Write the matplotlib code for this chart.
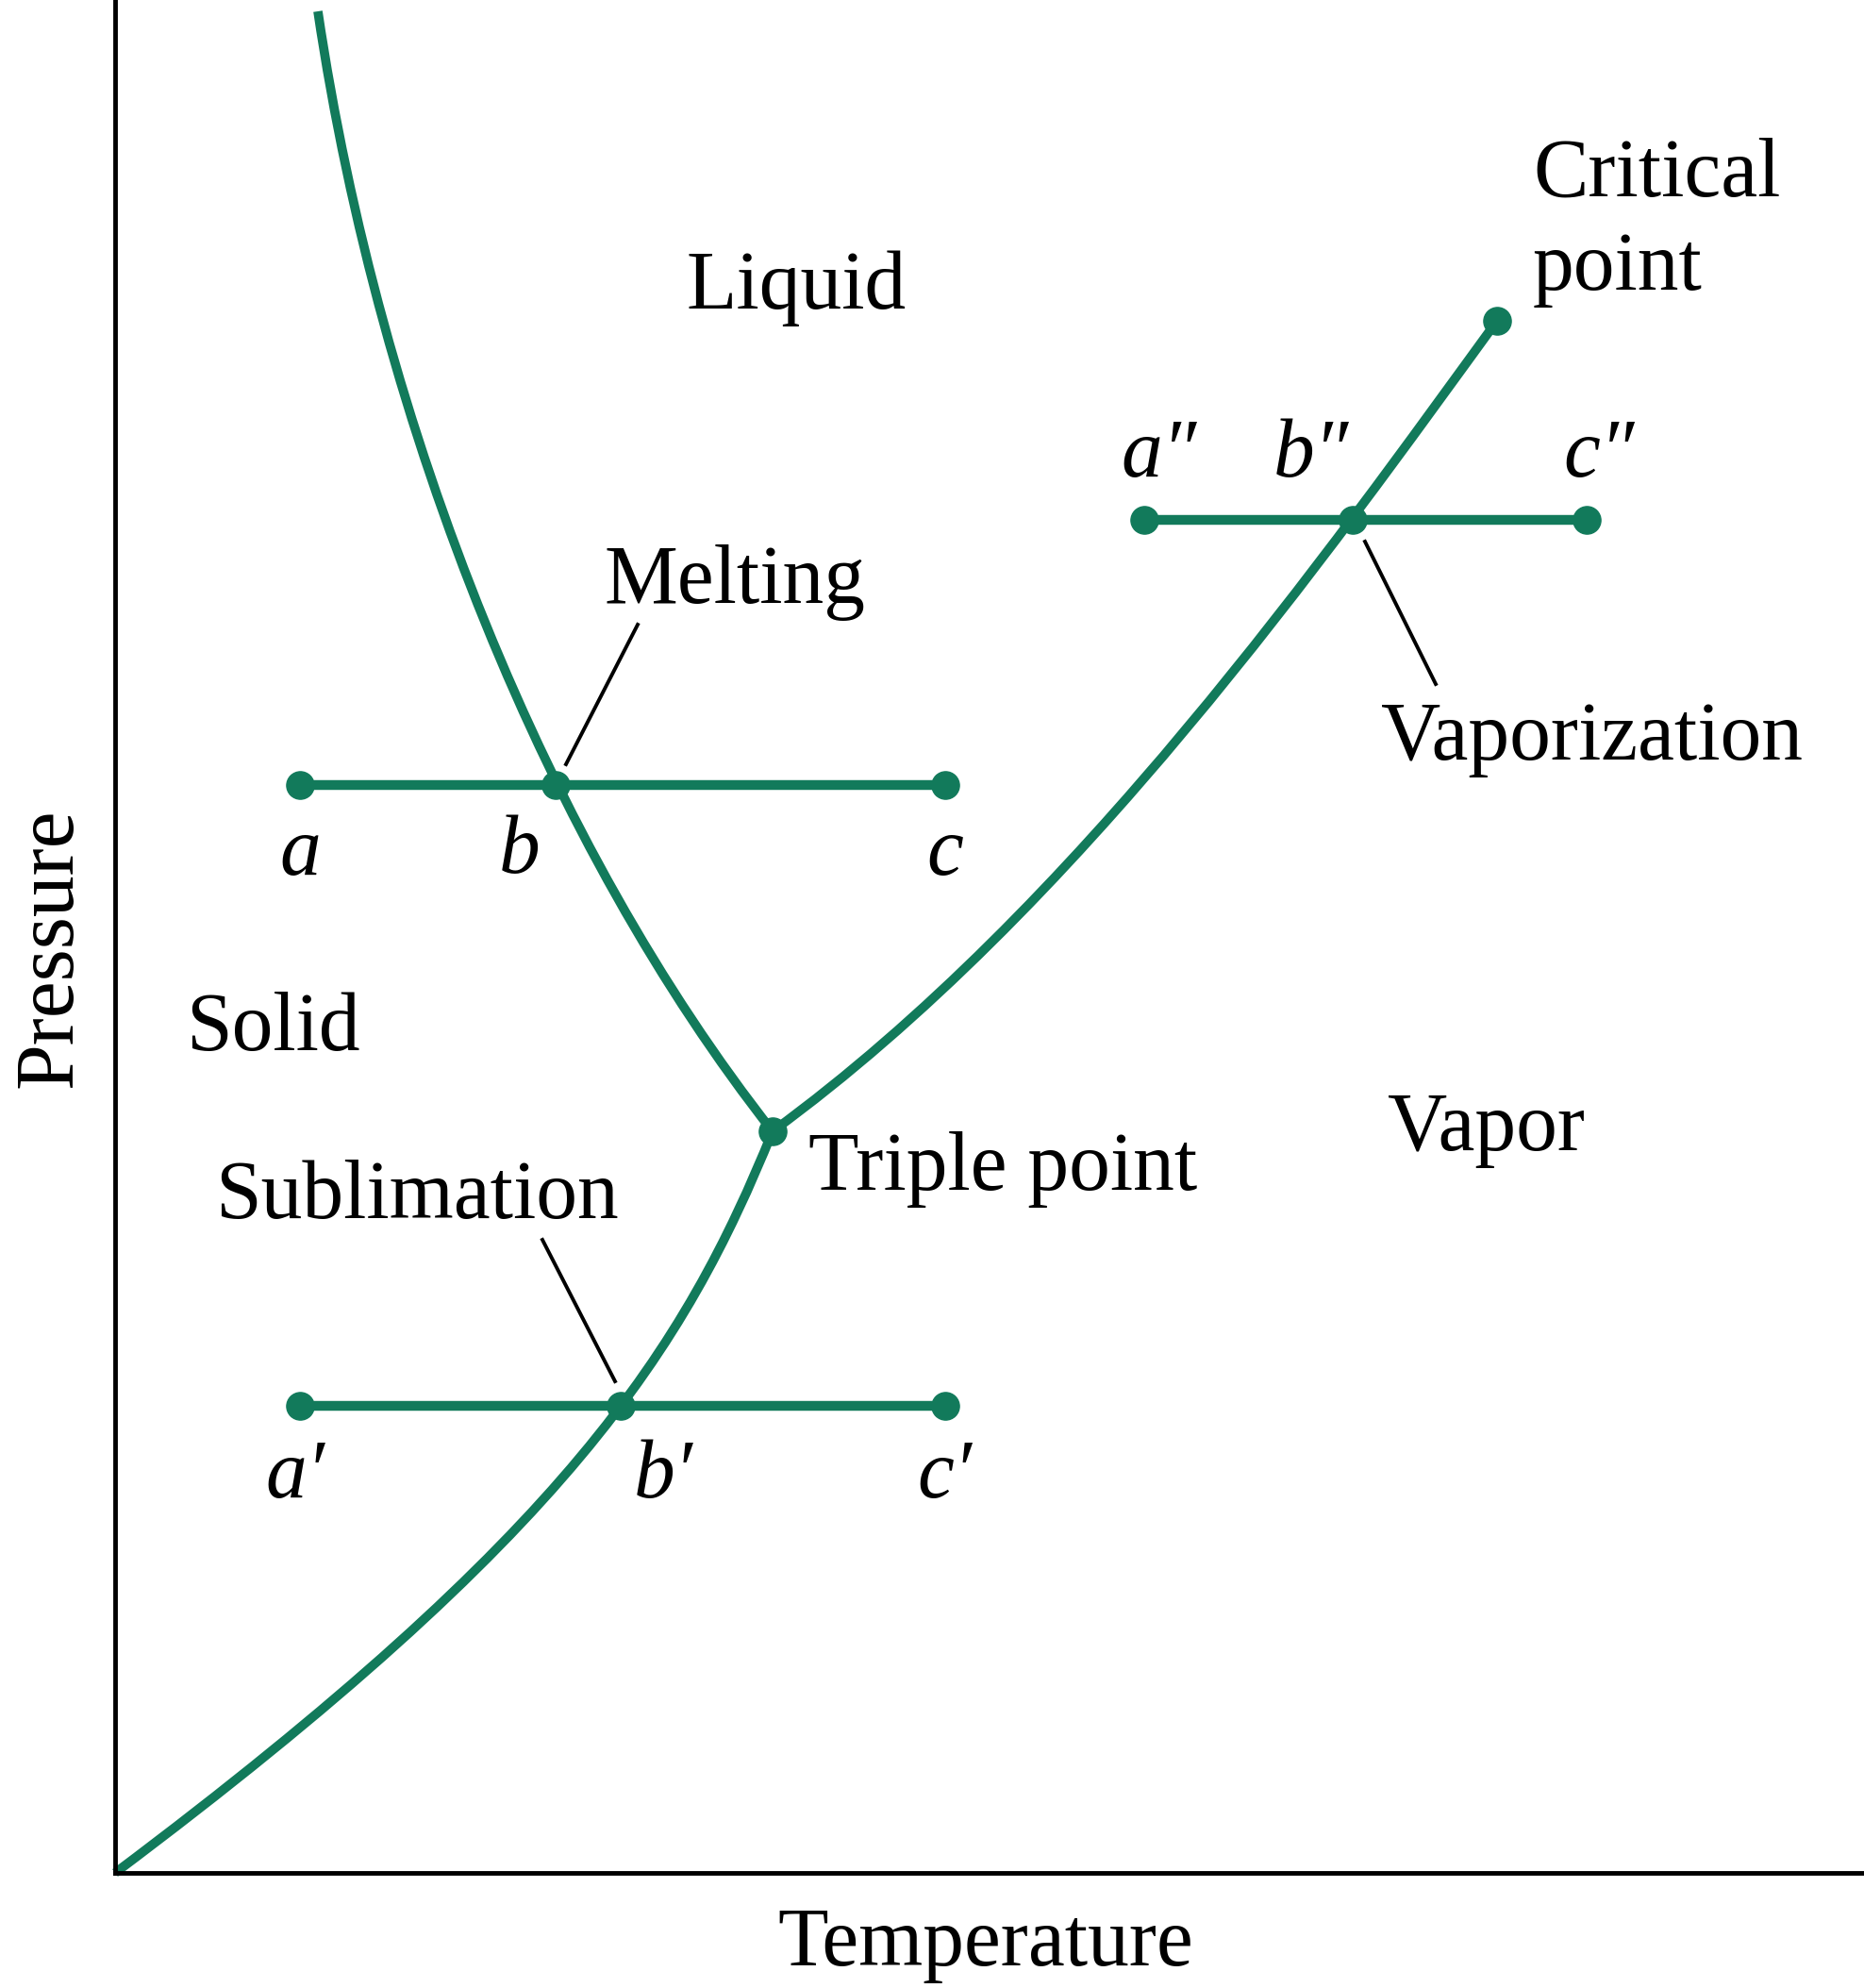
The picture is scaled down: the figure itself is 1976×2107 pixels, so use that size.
import matplotlib
matplotlib.use('Agg')
import matplotlib.pyplot as plt
from matplotlib.path import Path
from matplotlib.patches import PathPatch

GREEN = '#127a5b'
serif = ['Liberation Serif', 'DejaVu Serif']

# phase boundaries as cubic bezier control points (temperature, pressure),
# fitted by eye to the picture, arbitrary units
sub_T = [0, 480, 603, 697]
sub_P = [0, 360, 554, 786]

melt_T = [697, 461, 281, 215]
melt_P = [786, 1086, 1528, 1973]

vap_T = [697, 1020, 1288, 1465]
vap_P = [786, 1022, 1402, 1645]

# isobars: pressure, left end, right end, crossing
bar_P = [1153, 495, 1434]
bar_T0 = [196, 196, 1091]
bar_T1 = [880, 880, 1560]
cross_T = [467, 536, 1312]

triple = (697, 786)
critical = (1465, 1645)

fig = plt.figure(figsize=(19.76, 21.07), dpi=100)
ax = fig.add_axes([122 / 1976, (2107 - 1985) / 2107, 1854 / 1976, 1985 / 2107])
ax.set_xlim(0, 1854)
ax.set_ylim(0, 1985)
for s in ['top', 'right']:
    ax.spines[s].set_visible(False)
for s in ['left', 'bottom']:
    ax.spines[s].set_linewidth(3.5)
ax.set_xticks([])
ax.set_yticks([])

for xs, ys in [(sub_T, sub_P), (melt_T, melt_P), (vap_T, vap_P)]:
    path = Path(list(zip(xs, ys)), [Path.MOVETO] + [Path.CURVE4] * 3)
    ax.add_patch(PathPatch(path, fill=False, edgecolor=GREEN, lw=7,
                           capstyle='butt', clip_on=False))

for p, t0, t1, tc in zip(bar_P, bar_T0, bar_T1, cross_T):
    ax.plot([t0, t1], [p, p], color=GREEN, lw=7.5)
    ax.plot([t0, tc, t1], [p, p, p], 'o', color=GREEN, ms=21, lw=0)
ax.plot(*triple, 'o', color=GREEN, ms=21)
ax.plot(*critical, 'o', color=GREEN, ms=21)

# leader lines
ax.plot([554, 478], [1323, 1175], color='black', lw=2.8)
ax.plot([1325, 1400], [1411, 1260], color='black', lw=2.8)
ax.plot([453, 530], [671, 521], color='black', lw=2.8)

fs = 63
def txt(x, y, s, ha='left', style='normal'):
    ax.text(x, y, s, ha=ha, va='center', fontsize=fs, family=serif, style=style)

txt(722, 1680, 'Liquid', ha='center')
txt(657, 1368, 'Melting', ha='center')
txt(1503, 1799, 'Critical')
txt(1503, 1699, 'point')
txt(1342, 1202, 'Vaporization')
txt(75, 893, 'Solid')
txt(1349, 787, 'Vapor')
txt(735, 745, 'Triple point')
txt(106, 716, 'Sublimation')

# point labels
txt(196, 1079, 'a', ha='center', style='italic')
txt(429, 1082, 'b', ha='center', style='italic')
txt(880, 1079, 'c', ha='center', style='italic')
txt(191, 419, 'a\u2032', ha='center', style='italic')
txt(581, 419, 'b\u2032', ha='center', style='italic')
txt(879, 419, 'c\u2032', ha='center', style='italic')
txt(1107, 1502, 'a\u2033', ha='center', style='italic')
txt(1268, 1502, 'b\u2033', ha='center', style='italic')
txt(1573, 1502, 'c\u2033', ha='center', style='italic')

fig.text(778 / 1471, 1 - 1534 / 1568, 'Temperature', ha='center', va='center',
         fontsize=fs, family=serif)
fig.text(40 / 1471, 1 - 748 / 1568, 'Pressure', ha='center', va='center',
         rotation=90, fontsize=fs, family=serif)

fig.savefig('out.png', dpi=100)
